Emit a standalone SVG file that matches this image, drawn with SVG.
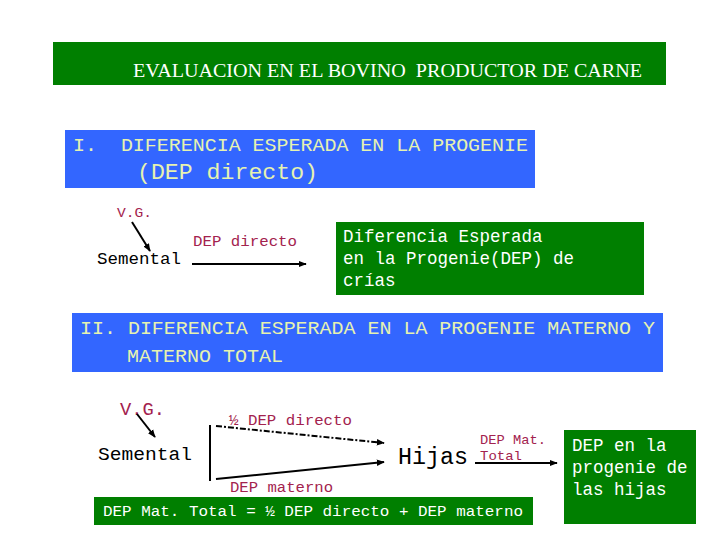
<svg xmlns="http://www.w3.org/2000/svg" width="720" height="540" viewBox="0 0 720 540" font-family="'Liberation Mono','Courier New','DejaVu Sans Mono',monospace">
<style>
.green{fill:#007f00}
.blue{fill:#3366ff}
.wt{fill:#ffffff}
.yl{fill:#e6f2b0}
.rd{fill:#a3224e}
.bk{fill:#000000}
.ln{stroke:#000;stroke-width:2;fill:none}
</style>
<defs>
<marker id="ah" viewBox="0 0 10 10" refX="9" refY="5" markerWidth="4" markerHeight="4" orient="auto" markerUnits="strokeWidth">
<path d="M0,1 L10,5 L0,9 z" fill="#000"/>
</marker>
</defs>
<rect width="720" height="540" fill="#ffffff"/>

<g id="title">
<rect class="green" x="53" y="42" width="613" height="43"/>
<text x="133" y="77" class="wt" font-family="'Liberation Serif','Times New Roman',serif" font-size="18" textLength="509" lengthAdjust="spacingAndGlyphs" xml:space="preserve">EVALUACION EN EL BOVINO  PRODUCTOR DE CARNE</text>
</g>

<g id="section1">
<rect class="blue" x="65" y="130" width="470" height="58"/>
<text x="73" y="151" class="yl" font-family="Liberation Mono" font-size="19" textLength="455" lengthAdjust="spacingAndGlyphs" xml:space="preserve">I.  DIFERENCIA ESPERADA EN LA PROGENIE</text>
<text x="137" y="179" class="yl" font-family="Liberation Mono" font-size="22" textLength="181" lengthAdjust="spacingAndGlyphs">(DEP directo)</text>
</g>

<g id="vg1"><text x="117" y="217" class="rd" font-family="Liberation Mono" font-size="13" textLength="35" lengthAdjust="spacingAndGlyphs">V.G.</text></g>
<g id="semental1"><text x="97" y="264" class="bk" font-family="Liberation Mono" font-size="16.5" textLength="84" lengthAdjust="spacingAndGlyphs">Semental</text></g>
<g id="progenie1">
<rect class="green" x="336" y="222" width="308" height="73"/>
<text class="wt" font-family="Liberation Mono" font-size="17.5" xml:space="preserve"><tspan x="343" y="242">Diferencia Esperada</tspan><tspan x="343" y="264">en la Progenie(DEP) de</tspan><tspan x="343" y="286">crías</tspan></text>
</g>

<g id="section2">
<rect class="blue" x="72" y="313" width="591" height="59"/>
<text x="80" y="334" class="yl" font-family="Liberation Mono" font-size="19" textLength="575" lengthAdjust="spacingAndGlyphs">II. DIFERENCIA ESPERADA EN LA PROGENIE MATERNO Y</text>
<text x="127" y="362" class="yl" font-family="Liberation Mono" font-size="19" textLength="156" lengthAdjust="spacingAndGlyphs">MATERNO TOTAL</text>
</g>

<g id="vg2"><text x="120" y="415" class="rd" font-family="Liberation Mono" font-size="18" textLength="45" lengthAdjust="spacingAndGlyphs">V.G.</text></g>
<g id="semental2"><text x="98" y="460" class="bk" font-family="Liberation Mono" font-size="19" textLength="94" lengthAdjust="spacingAndGlyphs">Semental</text></g>
<g id="hijas"><text x="398" y="464" class="bk" font-family="Liberation Mono" font-size="23" textLength="70" lengthAdjust="spacingAndGlyphs">Hijas</text></g>
<g id="progenie2">
<rect class="green" x="564" y="430" width="132" height="94"/>
<text class="wt" font-family="Liberation Mono" font-size="17.5" xml:space="preserve"><tspan x="572" y="451">DEP en la</tspan><tspan x="572" y="473">progenie de</tspan><tspan x="572" y="495">las hijas</tspan></text>
</g>
<g id="formula">
<rect class="green" x="94" y="497" width="439" height="28"/>
<text x="103" y="516" class="wt" font-family="Liberation Mono" font-size="15.5" textLength="420" lengthAdjust="spacingAndGlyphs">DEP Mat. Total = ½ DEP directo + DEP materno</text>
</g>

<g id="connectors">
<line class="ln" x1="132" y1="222" x2="150" y2="251" marker-end="url(#ah)"/>
<line class="ln" x1="192" y1="264" x2="306" y2="264" marker-end="url(#ah)"/>
<text x="193" y="246" class="rd" font-family="Liberation Mono" font-size="15.5" textLength="104" lengthAdjust="spacingAndGlyphs">DEP directo</text>

<line class="ln" x1="137" y1="414" x2="155" y2="437" marker-end="url(#ah)"/>
<line class="ln" x1="210" y1="425" x2="210" y2="481"/>
<line class="ln" x1="216" y1="426" x2="384" y2="443" stroke-dasharray="6,2,2,2" marker-end="url(#ah)"/>
<line class="ln" x1="216" y1="479" x2="384" y2="462" marker-end="url(#ah)"/>
<text x="229" y="425" class="rd" font-family="Liberation Mono" font-size="15.5" textLength="123" lengthAdjust="spacingAndGlyphs">½ DEP directo</text>
<text x="230" y="492" class="rd" font-family="Liberation Mono" font-size="15.5" textLength="103" lengthAdjust="spacingAndGlyphs">DEP materno</text>

<line class="ln" x1="475" y1="463" x2="557" y2="463" marker-end="url(#ah)"/>
<text x="480" y="444" class="rd" font-family="Liberation Mono" font-size="13" textLength="66" lengthAdjust="spacingAndGlyphs">DEP Mat.</text>
<text x="480" y="460" class="rd" font-family="Liberation Mono" font-size="13" textLength="42" lengthAdjust="spacingAndGlyphs">Total</text>
</g>
</svg>
